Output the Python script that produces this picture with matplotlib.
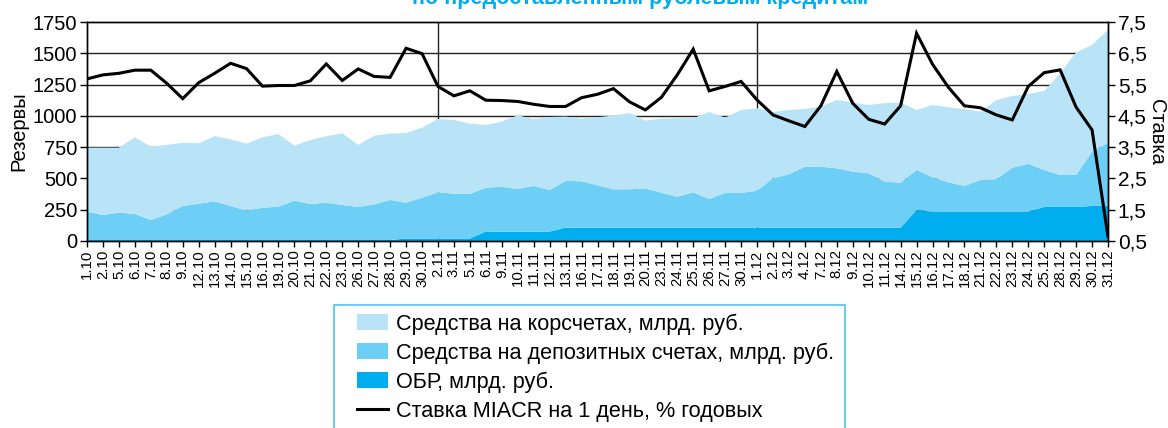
import matplotlib
matplotlib.use("Agg")
import matplotlib.pyplot as plt
import numpy as np
from matplotlib.patches import Rectangle, Patch
from matplotlib.lines import Line2D

plt.rcParams['font.family'] = ['Liberation Sans', 'DejaVu Sans']

dates = ["1.10", "2.10", "5.10", "6.10", "7.10", "8.10", "9.10", "12.10", "13.10", "14.10",
         "15.10", "16.10", "19.10", "20.10", "21.10", "22.10", "23.10", "26.10", "27.10", "28.10",
         "29.10", "30.10",
         "2.11", "3.11", "5.11", "6.11", "9.11", "10.11", "11.11", "12.11", "13.11", "16.11",
         "17.11", "18.11", "19.11", "20.11", "23.11", "24.11", "25.11", "26.11", "27.11", "30.11",
         "1.12", "2.12", "3.12", "4.12", "7.12", "8.12", "9.12", "10.12", "11.12", "14.12",
         "15.12", "16.12", "17.12", "18.12", "21.12", "22.12", "23.12", "24.12", "25.12", "28.12",
         "29.12", "30.12", "31.12"]

obr = [8] * 20 + [20] * 5 + [75] * 5 + [107] * 22 + [248] + [235] * 7 + [272] * 3 + [280, 282]

deposits = [227, 200, 219, 208, 160, 205, 272, 290, 309, 272, 235, 258, 266, 314, 288, 298, 280, 264,
            285, 320, 286, 326,
            369, 358, 356, 351, 359, 341, 365, 333, 373, 370, 338, 306, 306, 314, 279, 247, 282, 229,
            277, 277,
            295, 394, 426, 487, 487, 474, 447, 434, 367, 359, 320, 274, 234, 205, 253, 258, 351, 381,
            296, 256, 256, 434, 504]

korschet = [511, 538, 519, 613, 586, 555, 504, 483, 520, 533, 535, 563, 581, 440, 511, 531, 573, 496,
            549, 530, 557, 560,
            586, 589, 562, 501, 520, 589, 533, 583, 514, 501, 544, 589, 610, 541, 592, 627, 592, 695,
            602, 663,
            659, 529, 514, 461, 480, 546, 552, 546, 627, 640, 479, 578, 600, 613, 546, 634, 573, 559,
            631, 812, 978, 853, 901]

rate = [5.68, 5.81, 5.86, 5.96, 5.96, 5.54, 5.05, 5.56, 5.86, 6.18, 6.01, 5.45, 5.47, 5.47, 5.62,
        6.16, 5.63, 6.00, 5.76, 5.73, 6.66, 6.49,
        5.44, 5.14, 5.30, 5.00, 4.99, 4.96, 4.87, 4.80, 4.80, 5.08, 5.19, 5.37, 4.95, 4.69, 5.09,
        5.81, 6.63, 5.30, 5.44, 5.60,
        5.01, 4.53, 4.34, 4.16, 4.82, 5.92, 4.90, 4.39, 4.24, 4.82, 7.14, 6.15, 5.41, 4.82, 4.76,
        4.53, 4.37, 5.44, 5.88, 5.97, 4.78, 4.05, 0.64]

month_starts = ["2.11", "1.12"]
left_ticks = [0, 250, 500, 750, 1000, 1250, 1500, 1750]
right_ticks = [0.5, 1.5, 2.5, 3.5, 4.5, 5.5, 6.5, 7.5]

labels = ["Средства на корсчетах, млрд. руб.",
          "Средства на депозитных счетах, млрд. руб.",
          "ОБР, млрд. руб.",
          "Ставка MIACR на 1 день, % годовых"]
title = "по предоставленным рублевым кредитам"

c_light = "#b9e4f8"
c_mid = "#6dcff5"
c_dark = "#00aeef"

W, H = 1168, 428
fig = plt.figure(figsize=(W / 100, H / 100), dpi=100)

def fx(x):
    return x / W

def fy(y):
    return 1 - y / H

ax = fig.add_axes([fx(87), fy(241), fx(1108) - fx(87), fy(22) - fy(241)])
x = np.arange(len(dates))

for v in left_ticks[1:-1]:
    ax.axhline(v, color="#222222", lw=1.0, zorder=0.5)
for d in month_starts:
    ax.axvline(dates.index(d), color="#222222", lw=1.0, zorder=0.5)

ax.stackplot(x, obr, deposits, korschet, colors=[c_dark, c_mid, c_light], zorder=1, linewidth=0)
ax.set_xlim(0, len(dates) - 1)
ax.set_ylim(0, 1750)
ax.set_yticks(left_ticks)
ax.set_yticklabels([str(t) for t in left_ticks], fontsize=14.5)
ax.set_xticks(x)
ax.set_xticklabels(dates, rotation=90, fontsize=10.8)
ax.tick_params(axis="x", direction="out", length=4, width=1, pad=2)
ax.tick_params(axis="y", direction="out", length=5, width=1, pad=2)
ax.set_ylabel("Резервы", fontsize=14.5, labelpad=3)

ax2 = ax.twinx()
ax2.plot(x, rate, color="black", lw=2.2, zorder=3, solid_joinstyle="miter")
ax2.set_ylim(0.5, 7.5)
ax2.set_yticks(right_ticks)
ax2.set_yticklabels([("%.1f" % t).replace(".", ",") for t in right_ticks], fontsize=15)
ax2.tick_params(axis="y", direction="out", length=5, width=1, pad=2)
ax2.set_ylabel("Ставка", fontsize=14.5, rotation=270, labelpad=14)

for a in (ax, ax2):
    for s in a.spines.values():
        s.set_color("black")
        s.set_linewidth(1.0)

fig.text(fx(640), fy(4), title, color=c_dark, fontsize=15.6, fontweight="bold",
         ha="center", va="baseline")

# legend frame
fig.patches.append(Rectangle((fx(334), fy(440)), fx(845) - fx(334), fy(305) - fy(440),
                             transform=fig.transFigure, facecolor="white",
                             edgecolor="#4fc3f0", lw=1.2))
handles = [Patch(facecolor=c_light, edgecolor="none"),
           Patch(facecolor=c_mid, edgecolor="none"),
           Patch(facecolor=c_dark, edgecolor="none"),
           Line2D([], [], color="black", lw=2.2)]
leg = fig.legend(handles, labels, loc="upper left", bbox_to_anchor=(fx(350), fy(307)),
                 frameon=False, fontsize=15.6, handlelength=1.45, handleheight=0.75,
                 handletextpad=0.38, labelspacing=0.36, borderpad=0.3, borderaxespad=0)

fig.savefig("out.png", dpi=100)
